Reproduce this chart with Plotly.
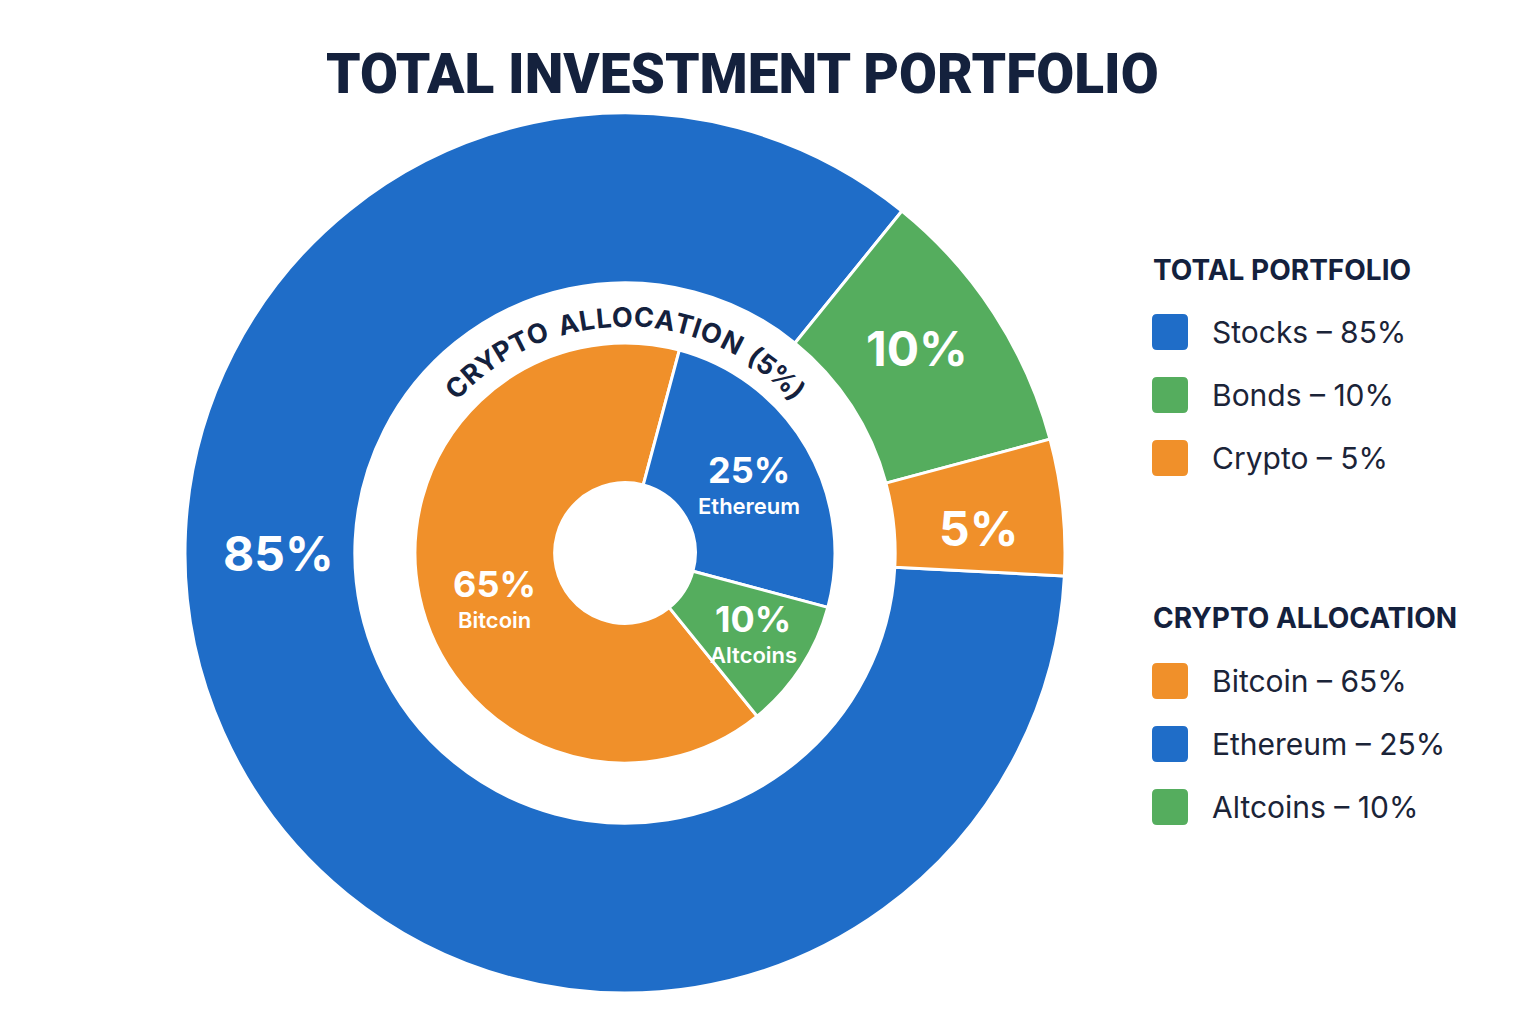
import math
import plotly.graph_objects as go

# ---------------- data ----------------
total_labels = ["Stocks", "Bonds", "Crypto"]
total_values = [85, 10, 5]
total_colors = ["#1f6dc8", "#55ad5e", "#f0902a"]

crypto_labels = ["Bitcoin", "Ethereum", "Altcoins"]
crypto_values = [65, 25, 10]
crypto_colors = ["#f0902a", "#1f6dc8", "#55ad5e"]

title_text = "TOTAL INVESTMENT PORTFOLIO"
legend1_title = "TOTAL PORTFOLIO"
legend2_title = "CRYPTO ALLOCATION"
arc_text = "CRYPTO ALLOCATION (5%)"

# label placement (style): angle clockwise from 12 o'clock, radius in px
total_label_angles = [270, 55, 86]
total_label_radius = [347, 356, 354]
crypto_label_angles = [250, 62, 123]
crypto_label_radius = [139, 141, 153]

W, H = 1536, 1024
NAVY = "#14213d"
TXT = "#1b2438"

def px_x(x):
    return x / W

def px_y(y):
    return 1 - y / H

CX, CY = 625, 553
R_OUT, R_IN = 440, 210

def polar(angle, r):
    t = math.radians(angle)
    return CX + r * math.sin(t), CY - r * math.cos(t)

fig = go.Figure()

fig.add_trace(go.Pie(
    labels=total_labels, values=total_values, sort=False,
    direction="clockwise", rotation=93, hole=0.614,
    marker=dict(colors=total_colors, line=dict(color="white", width=3)),
    textinfo="none",
    domain=dict(x=[px_x(CX - R_OUT), px_x(CX + R_OUT)],
                y=[px_y(CY + R_OUT), px_y(CY - R_OUT)]),
    showlegend=False, hoverinfo="label+percent",
))

fig.add_trace(go.Pie(
    labels=crypto_labels, values=crypto_values, sort=False,
    direction="clockwise", rotation=141, hole=0.335,
    marker=dict(colors=crypto_colors, line=dict(color="white", width=3)),
    textinfo="none",
    domain=dict(x=[px_x(CX - R_IN), px_x(CX + R_IN)],
                y=[px_y(CY + R_IN), px_y(CY - R_IN)]),
    showlegend=False, hoverinfo="label+percent",
))

annotations = []
shapes = []

# slice labels
for val, ang, rad in zip(total_values, total_label_angles, total_label_radius):
    x, y = polar(ang, rad)
    annotations.append(dict(
        text=f"{val}%", x=px_x(x), y=px_y(y), xref="paper", yref="paper",
        showarrow=False, xanchor="center", yanchor="middle",
        font=dict(family="Inter", size=48, color="white", weight=700)))

for lab, val, ang, rad in zip(crypto_labels, crypto_values,
                              crypto_label_angles, crypto_label_radius):
    x, y = polar(ang, rad)
    annotations.append(dict(
        text=f"{val}%", x=px_x(x), y=px_y(y - 17), xref="paper", yref="paper",
        showarrow=False, xanchor="center", yanchor="middle",
        font=dict(family="Inter", size=36, color="white", weight=700)))
    annotations.append(dict(
        text=lab, x=px_x(x), y=px_y(y + 19), xref="paper", yref="paper",
        showarrow=False, xanchor="center", yanchor="middle",
        font=dict(family="Inter", size=22, color="white", weight=600)))

# title
annotations.append(dict(
    text=title_text, x=px_x(742), y=px_y(74), xref="paper", yref="paper",
    showarrow=False, xanchor="center", yanchor="middle",
    font=dict(family="Roboto", size=55, color=NAVY, weight=900)))

# curved text along arc
widths = {"C": .72, "R": .70, "Y": .66, "P": .66, "T": .62, "O": .78, " ": .34,
          "A": .74, "L": .58, "I": .30, "N": .76, "(": .38, "5": .62,
          "%": .90, ")": .38}
ws = [widths.get(ch, .6) for ch in arc_text]
tot = sum(ws)
a0, a1 = -48.0, 48.0
r_arc = 236
acc = 0.0
for ch, w in zip(arc_text, ws):
    mid = acc + w / 2
    acc += w
    if ch == " ":
        continue
    th = a0 + (a1 - a0) * mid / tot
    x, y = polar(th, r_arc)
    annotations.append(dict(
        text=ch, x=px_x(x), y=px_y(y), xref="paper", yref="paper",
        showarrow=False, xanchor="center", yanchor="middle", textangle=th,
        font=dict(family="Inter", size=27, color=NAVY, weight=700)))

# legends
def rounded_square(x0, y0, s, r):
    x1, y1 = x0 + s, y0 + s
    pts = [
        f"M{px_x(x0 + r)},{px_y(y0)}",
        f"L{px_x(x1 - r)},{px_y(y0)}",
        f"Q{px_x(x1)},{px_y(y0)} {px_x(x1)},{px_y(y0 + r)}",
        f"L{px_x(x1)},{px_y(y1 - r)}",
        f"Q{px_x(x1)},{px_y(y1)} {px_x(x1 - r)},{px_y(y1)}",
        f"L{px_x(x0 + r)},{px_y(y1)}",
        f"Q{px_x(x0)},{px_y(y1)} {px_x(x0)},{px_y(y1 - r)}",
        f"L{px_x(x0)},{px_y(y0 + r)}",
        f"Q{px_x(x0)},{px_y(y0)} {px_x(x0 + r)},{px_y(y0)}",
        "Z",
    ]
    return " ".join(pts)

def add_legend(title, labels, values, colors, y_title, y_first):
    annotations.append(dict(
        text=title, x=px_x(1151), y=px_y(y_title), xref="paper", yref="paper",
        showarrow=False, xanchor="left", yanchor="middle",
        font=dict(family="Inter", size=28, color=NAVY, weight=700)))
    for i, (lab, val, col) in enumerate(zip(labels, values, colors)):
        yc = y_first + i * 63
        shapes.append(dict(type="path", xref="paper", yref="paper",
                           path=rounded_square(1152, yc - 18, 36, 5),
                           fillcolor=col, line=dict(width=0)))
        annotations.append(dict(
            text=f"{lab} \u2013 {val}%", x=px_x(1210), y=px_y(yc),
            xref="paper", yref="paper", showarrow=False,
            xanchor="left", yanchor="middle",
            font=dict(family="Inter", size=30, color=TXT)))

add_legend(legend1_title, total_labels, total_values, total_colors, 270, 332)
add_legend(legend2_title, crypto_labels, crypto_values, crypto_colors, 618, 681)

fig.update_layout(
    width=W, height=H, margin=dict(l=0, r=0, t=0, b=0),
    paper_bgcolor="white", plot_bgcolor="white",
    annotations=annotations, shapes=shapes,
)

fig.write_html("out.html")
